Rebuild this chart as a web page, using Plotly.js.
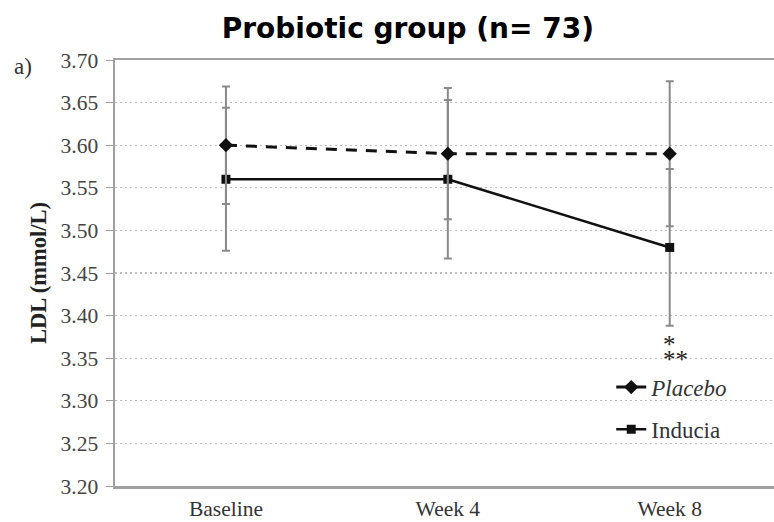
<!DOCTYPE html>
<html>
<head>
<meta charset="utf-8">
<script src="https://cdn.plot.ly/plotly-3.0.1.min.js"></script>
<style>
  html, body { margin: 0; padding: 0; background: #fff; }
  #chart { width: 774px; height: 522px; }
</style>
</head>
<body>
<div id="chart"></div>
<script>
// LDL over time, probiotic study
const visits = ['Baseline', 'Week 4', 'Week 8'];
const placeboMean = [3.60, 3.59, 3.59];
const placeboErr  = [0.069, 0.077, 0.085];
const inducaMean  = [3.56, 3.56, 3.48];
const inducaErr   = [0.084, 0.093, 0.092];
const yTicks = [3.20, 3.25, 3.30, 3.35, 3.40, 3.45, 3.50, 3.55, 3.60, 3.65, 3.70];

const serif = 'Times New Roman, Liberation Serif, serif';
const errColor = '#8a8a8a';
const axisGray = '#a0a0a0';

const inducia = {
  x: visits, y: inducaMean, name: 'Inducia', type: 'scatter', mode: 'lines+markers',
  line: { color: '#111', width: 2.5 },
  marker: { symbol: 'square', size: 9, color: '#111' },
  error_y: { type: 'data', array: inducaErr, visible: true, color: errColor, thickness: 2, width: 4 },
  legend: 'legend2'
};

const placebo = {
  x: visits, y: placeboMean, name: '<i>Placebo</i>', type: 'scatter', mode: 'lines+markers',
  line: { color: '#111', width: 3, dash: '11px,9px' },
  marker: { symbol: 'diamond', size: 11, color: '#111' },
  error_y: { type: 'data', array: placeboErr, visible: true, color: errColor, thickness: 2, width: 4 },
  legend: 'legend'
};

const layout = {
  width: 774, height: 522,
  margin: { l: 115, r: 0, t: 60, b: 36 },
  paper_bgcolor: '#fff', plot_bgcolor: '#fff',
  font: { family: serif, color: '#333' },
  showlegend: true,
  title: {
    text: '<b>Probiotic group (n= 73)</b>',
    font: { family: 'DejaVu Sans, sans-serif', size: 28, color: '#000' },
    xref: 'container', yref: 'container', x: 0.527, y: 0.946,
    xanchor: 'center', yanchor: 'middle'
  },
  xaxis: {
    type: 'category', range: [-0.5, 2.47],
    showline: true, linecolor: axisGray, linewidth: 2.5, mirror: true,
    ticks: '', showgrid: false, zeroline: false,
    ticklabelstandoff: 2,
    tickfont: { family: serif, size: 21.5, color: '#333' }
  },
  yaxis: {
    range: [3.2, 3.7], tickvals: yTicks, ticktext: yTicks.map(v => v.toFixed(2)),
    showline: true, linecolor: axisGray, linewidth: 2.5,
    ticks: 'outside', ticklen: 7, tickcolor: axisGray, tickwidth: 1,
    ticklabelstandoff: 3,
    showgrid: true, gridcolor: '#bdbdbd', gridwidth: 1.2, griddash: '2px,3px',
    zeroline: false,
    tickfont: { family: serif, size: 21.5, color: '#444' },
    title: { text: '<b>LDL (mmol/L)</b>', font: { family: serif, size: 22.5, color: '#222' }, standoff: 8 }
  },
  legend: {
    x: 0.753, y: 0.232, xanchor: 'left', yanchor: 'middle',
    bgcolor: 'rgba(0,0,0,0)', font: { family: serif, size: 23, color: '#333' }
  },
  legend2: {
    x: 0.753, y: 0.133, xanchor: 'left', yanchor: 'middle',
    bgcolor: 'rgba(0,0,0,0)', font: { family: serif, size: 23, color: '#333' }
  },
  annotations: [
    { text: 'a)', xref: 'paper', yref: 'paper', x: -0.139, y: 0.985, xanchor: 'center', yanchor: 'middle',
      showarrow: false, font: { family: serif, size: 23, color: '#333' } },
    { text: '*', xref: 'x', yref: 'y', x: 'Week 8', y: 3.366, xanchor: 'center', showarrow: false,
      font: { family: serif, size: 25, color: '#222' } },
    { text: '**', xref: 'x', yref: 'y', x: 'Week 8', y: 3.348, xanchor: 'left', xshift: -9, showarrow: false,
      font: { family: serif, size: 25, color: '#222' } }
  ]
};

Plotly.newPlot('chart', [inducia, placebo], layout, { displayModeBar: false, staticPlot: true });
</script>
</body>
</html>
